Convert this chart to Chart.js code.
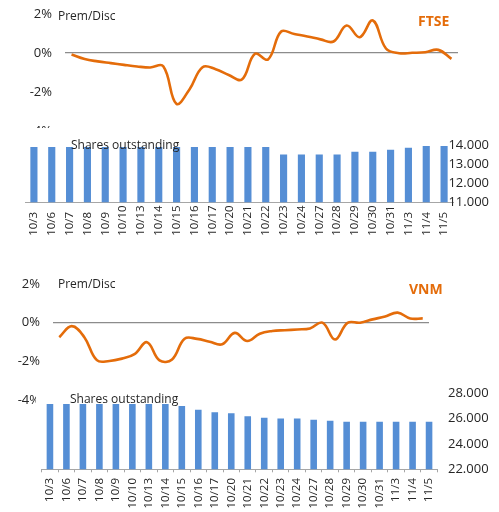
<!DOCTYPE html>
<html>
<head>
<meta charset="utf-8">
<script src="https://cdn.jsdelivr.net/npm/chart.js@4.4.1/dist/chart.umd.min.js"></script>
<style>
  body { margin: 0; background: #fff; }
  #wrap { position: relative; width: 499px; height: 512px; overflow: hidden; font-family: "Open Sans", sans-serif; color: #262626; }
  canvas { position: absolute; }
  .bars { background: #fff; }
  .lbl { position: absolute; font-size: 12px; line-height: 16px; white-space: nowrap; z-index: 5; }
  .ttl { position: absolute; font-size: 14px; line-height: 16px; font-weight: bold; color: #E46C0A; z-index: 5; }
</style>
</head>
<body>
<div id="wrap">
  <canvas id="ftseLine" width="499" height="140" style="left:0px;top:0px"></canvas>
  <canvas id="ftseBars" class="bars" width="499" height="112" style="left:0px;top:128px"></canvas>
  <canvas id="vnmLine" width="499" height="135" style="left:0px;top:270px"></canvas>
  <canvas id="vnmBars" class="bars" width="463" height="127" style="left:36px;top:385px"></canvas>
  <div class="lbl" style="left:58px;top:8px">Prem/Disc</div>
  <div class="ttl" style="left:418px;top:13px">FTSE</div>
  <div class="lbl" style="left:71px;top:137px">Shares outstanding</div>
  <div class="lbl" style="left:58px;top:276px">Prem/Disc</div>
  <div class="ttl" style="left:409px;top:281px">VNM</div>
  <div class="lbl" style="left:70px;top:391px">Shares outstanding</div>
</div>
<script>
// trading days shown under the bars
var days = ['10/3', '10/6', '10/7', '10/8', '10/9', '10/10', '10/13', '10/14', '10/15', '10/16', '10/17', '10/20',
            '10/21', '10/22', '10/23', '10/24', '10/27', '10/28', '10/29', '10/30', '10/31', '11/3', '11/4', '11/5'];
// premium / discount points (the line has its own finer axis, no labels shown)
var premPoints = [1, 2, 3, 4, 5, 6, 7, 8, 9, 10, 11, 12, 13, 14, 15, 16, 17, 18, 19, 20, 21, 22, 23, 24, 25, 26, 27, 28, 29, 30];

var ftsePrem = [-0.08, -0.31, -0.43, -0.52, -0.61, -0.69, -0.74, -0.68, -2.6, -1.87, -0.73, -0.83, -1.13, -1.36, -0.04,
                -0.33, 1.10, 0.97, 0.85, 0.70, 0.59, 1.41, 0.81, 1.67, 0.23, -0.01, 0.01, 0.04, 0.16, -0.30];
var vnmPrem = [-0.75, -0.18, -0.75, -1.94, -1.98, -1.86, -1.63, -1.01, -1.95, -1.9, -0.83, -0.84, -0.99, -1.12, -0.53,
               -0.95, -0.57, -0.43, -0.39, -0.35, -0.30, 0.0, -0.87, -0.01, 0.0, 0.17, 0.32, 0.52, 0.22, 0.22];

var ftseShares = [13900, 13900, 13900, 13900, 13900, 13900, 13900, 13900, 13900, 13900, 13900, 13900, 13900, 13900,
                  13500, 13500, 13500, 13500, 13650, 13650, 13750, 13850, 13950, 13950];
var vnmShares = [27150, 27150, 27150, 27150, 27150, 27150, 27150, 27150, 27000, 26700, 26500, 26420, 26180, 26070,
                 26020, 26020, 25920, 25840, 25760, 25760, 25760, 25760, 25760, 25760];

var orange = '#E46C0A';
var blue = '#558ED5';
var textCol = '#262626';
var axisGray = '#a6a6a6';

function premChart(id, values, padRight, yAxisWidth, padBottom) {
    return new Chart(document.getElementById(id), {
        type: 'line',
        data: {
            labels: premPoints,
            datasets: [{
                data: values,
                borderColor: orange,
                borderWidth: 2.6,
                pointRadius: 0,
                tension: 0.4,
                fill: false
            }]
        },
        options: {
            responsive: false,
            animation: false,
            layout: { autoPadding: false, padding: { top: 14, right: padRight, bottom: padBottom, left: 0 } },
            plugins: { legend: { display: false }, tooltip: { enabled: false } },
            scales: {
                x: { display: false, offset: true },
                y: {
                    min: -4,
                    max: 2,
                    border: { display: false },
                    grid: {
                        drawTicks: false,
                        lineWidth: 1.2,
                        color: function(ctx) {
                            return ctx.tick && ctx.tick.value === 0 ? '#8c8c8c' : 'transparent';
                        }
                    },
                    ticks: {
                        stepSize: 2,
                        padding: 13,
                        color: textCol,
                        font: { family: 'Open Sans', size: 13 },
                        callback: function(v) { return v + '%'; }
                    },
                    afterFit: function(s) {
                        s.width = yAxisWidth;
                        s.paddingTop = 0;
                        s.paddingBottom = 0;
                    }
                }
            }
        }
    });
}

function sharesChart(id, values, o) {
    return new Chart(document.getElementById(id), {
        type: 'bar',
        data: {
            labels: days,
            datasets: [{
                data: values,
                backgroundColor: blue,
                categoryPercentage: 1,
                barPercentage: 0.4
            }]
        },
        options: {
            responsive: false,
            animation: false,
            layout: { autoPadding: false, padding: { top: o.top, left: o.left, right: 0, bottom: 0 } },
            plugins: { legend: { display: false }, tooltip: { enabled: false } },
            scales: {
                x: {
                    border: { color: axisGray, width: 1 },
                    grid: {
                        display: o.ticks,
                        drawOnChartArea: false,
                        drawTicks: o.ticks,
                        tickLength: 3,
                        offset: true,
                        color: axisGray
                    },
                    ticks: {
                        autoSkip: false,
                        minRotation: 90,
                        maxRotation: 90,
                        padding: o.labelPad,
                        color: textCol,
                        font: { family: 'Open Sans', size: 11.5 },
                        callback: function(v, i) {
                            var s = days[i];
                            if (o.padLabels) {
                                while (s.length < 5) s += '\u2007';
                            }
                            return s;
                        }
                    },
                    afterFit: function(s) {
                        s.height = o.xHeight;
                        s.paddingLeft = 0;
                        s.paddingRight = 0;
                    }
                },
                y: {
                    position: 'right',
                    min: o.min,
                    max: o.max,
                    border: { display: false },
                    grid: { display: false, drawTicks: false },
                    ticks: {
                        stepSize: o.step,
                        mirror: o.mirror,
                        padding: o.yPad,
                        color: textCol,
                        font: { family: 'Open Sans', size: 13 },
                        callback: function(v) { return (v / 1000).toFixed(3); }
                    },
                    afterFit: function(s) {
                        s.width = o.yWidth;
                        s.paddingTop = 0;
                        s.paddingBottom = 0;
                    }
                }
            }
        }
    });
}

premChart('ftseLine', ftsePrem, 41, 65, 9);
sharesChart('ftseBars', ftseShares, {
    top: 17, left: 25, xHeight: 37.7, yWidth: 46, yPad: 36, mirror: true, labelPad: 3,
    min: 11000, max: 14000, step: 1000, ticks: false, padLabels: true
});
premChart('vnmLine', vnmPrem, 70, 53, 5);
sharesChart('vnmBars', vnmShares, {
    top: 8.3, left: 5.7, xHeight: 42.7, yWidth: 61.7, yPad: 10.7, mirror: false, labelPad: 5.7,
    min: 22000, max: 28000, step: 2000, ticks: true, padLabels: false
});
</script>
</body>
</html>
